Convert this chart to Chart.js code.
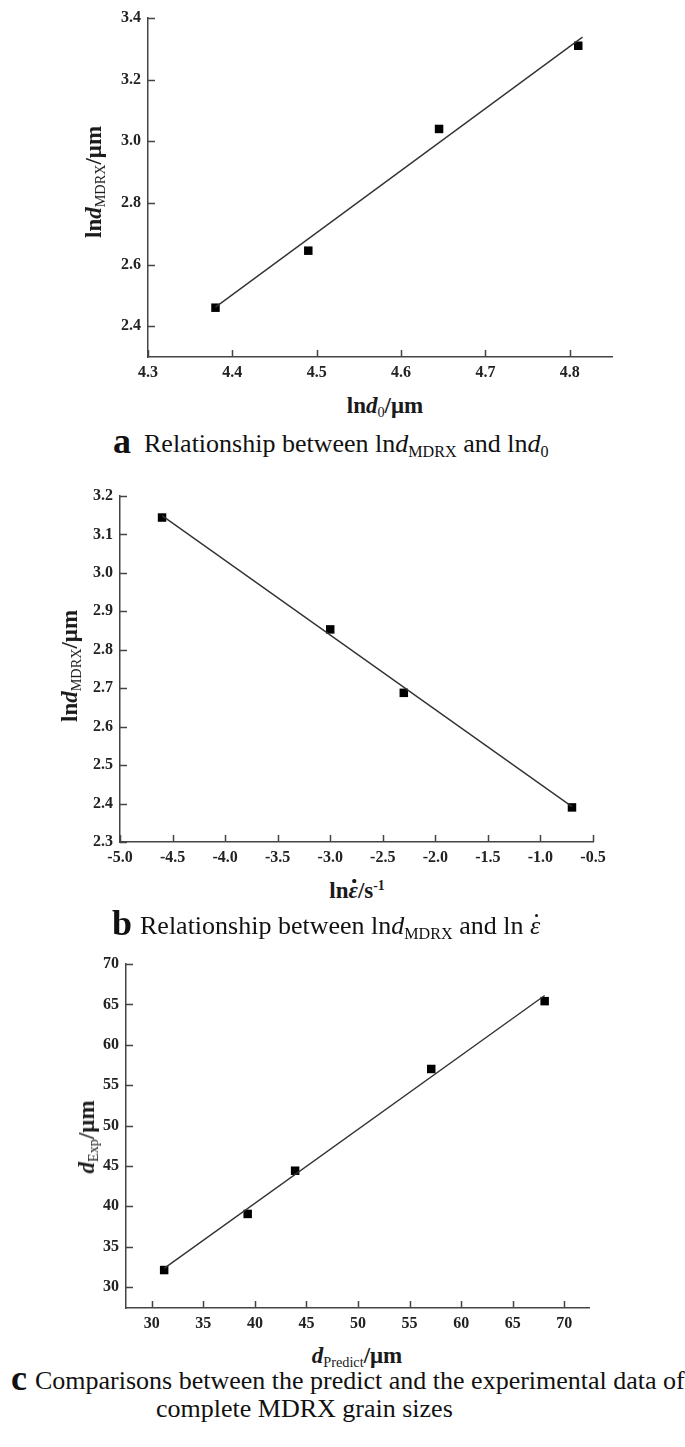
<!DOCTYPE html>
<html>
<head>
<meta charset="utf-8">
<script src="https://cdn.jsdelivr.net/npm/chart.js@4.4.1/dist/chart.umd.min.js"></script>
<style>
  body { margin: 0; background: #fff; width: 685px; height: 1447px; position: relative; overflow: hidden; }
  .panel { position: absolute; left: 0; }
  canvas { display: block; }
  .t { position: absolute; white-space: nowrap; font-family: 'Liberation Serif', 'Times New Roman', serif; color: #1a1a1a; }
  .axt { font-weight: bold; font-size: 23px; line-height: 23px; }
  .ytl { transform: translate(-50%, -50%) rotate(-90deg); }
  .xtl { transform: translateX(-50%); }
  .cap { font-size: 26px; line-height: 26px; color: #111; }
  .lab { font-weight: bold; font-size: 36px; line-height: 36px; color: #111; }
  sub { font-size: 0.62em; vertical-align: baseline; position: relative; top: 0.3em; font-weight: normal; }
  sup { font-size: 0.6em; vertical-align: baseline; position: relative; top: -0.6em; }
  .edot { position: relative; display: inline-block; font-style: italic; }
  .edot::after { content: ''; position: absolute; left: 50%; top: 0.02em; width: 0.14em; height: 0.14em; margin-left: -0.02em; border-radius: 50%; background: currentColor; }
</style>
</head>
<body>

<div class="panel" style="top:0px"><canvas id="chartA" width="685" height="390"></canvas></div>
<div class="panel" style="top:470px"><canvas id="chartB" width="685" height="400"></canvas></div>
<div class="panel" style="top:940px"><canvas id="chartC" width="685" height="400"></canvas></div>

<!-- axis titles -->
<div class="t axt ytl" style="left:95px; top:182px">ln<i>d</i><sub>MDRX</sub>/μm</div>
<div class="t axt xtl" style="left:385px; top:394px">ln<i>d</i><sub>0</sub>/μm</div>

<div class="t axt ytl" style="left:71px; top:666px">ln<i>d</i><sub>MDRX</sub>/μm</div>
<div class="t axt xtl" style="left:357px; top:879px">ln<span class="edot">ε</span>/s<sup>-1</sup></div>

<div class="t axt ytl" style="left:88px; top:1137px"><i>d</i><sub>Exp</sub>/μm</div>
<div class="t axt xtl" style="left:357px; top:1344px"><i>d</i><sub>Predict</sub>/μm</div>

<!-- captions -->
<div class="t lab" style="left:113px; top:423px">a</div>
<div class="t cap" style="left:144px; top:431px">Relationship between ln<i>d</i><sub>MDRX</sub> and ln<i>d</i><sub>0</sub></div>

<div class="t lab" style="left:112px; top:905px">b</div>
<div class="t cap" style="left:140px; top:913px">Relationship between ln<i>d</i><sub>MDRX</sub> and ln <span class="edot">ε</span></div>

<div class="t lab" style="left:11px; top:1360px">c</div>
<div class="t cap" style="left:35px; top:1368px">Comparisons between the predict and the experimental data of</div>
<div class="t cap" style="left:156px; top:1396px">complete MDRX grain sizes</div>

<script>
// panel a: lnd_MDRX vs lnd_0
const aX = [4.38, 4.49, 4.645, 4.81];
const aY = [2.46, 2.645, 3.04, 3.31];
const aFitX = [4.38, 4.815];
const aFitY = [2.462, 3.338];
const aTicksX = [4.3, 4.4, 4.5, 4.6, 4.7, 4.8];
const aTicksY = [2.4, 2.6, 2.8, 3.0, 3.2, 3.4];

// panel b: lnd_MDRX vs ln strain rate
const bX = [-4.6, -3.0, -2.3, -0.7];
const bY = [3.144, 2.853, 2.688, 2.39];
const bFitX = [-4.6, -0.7];
const bFitY = [3.149, 2.392];
const bTicksX = [-5.0, -4.5, -4.0, -3.5, -3.0, -2.5, -2.0, -1.5, -1.0, -0.5];
const bTicksY = [2.3, 2.4, 2.5, 2.6, 2.7, 2.8, 2.9, 3.0, 3.1, 3.2];

// panel c: predicted vs experimental grain size
const cX = [31.2, 39.3, 43.9, 57.1, 68.1];
const cY = [32.1, 39.05, 44.4, 57.0, 65.4];
const cFitX = [31.2, 68.1];
const cFitY = [32.3, 66.1];
const cTicksX = [30, 35, 40, 45, 50, 55, 60, 65, 70];
const cTicksY = [30, 35, 40, 45, 50, 55, 60, 65, 70];

const axisColor = '#444';
Chart.defaults.font.family = "'Liberation Serif', 'Times New Roman', serif";

// ticks point inward, into the plot
const innerTicks = {
  id: 'innerTicks',
  afterDraw(chart) {
    const { ctx, chartArea, scales } = chart;
    ctx.save();
    ctx.strokeStyle = axisColor;
    ctx.lineWidth = 1.5;
    ctx.beginPath();
    scales.x.ticks.forEach(t => {
      const px = Math.round(scales.x.getPixelForValue(t.value)) + 0.5;
      ctx.moveTo(px, chartArea.bottom);
      ctx.lineTo(px, chartArea.bottom - 7);
    });
    scales.y.ticks.forEach(t => {
      const py = Math.round(scales.y.getPixelForValue(t.value)) + 0.5;
      ctx.moveTo(chartArea.left, py);
      ctx.lineTo(chartArea.left + 7, py);
    });
    ctx.stroke();
    ctx.restore();
  }
};

function makeChart(id, p) {
  const canvas = document.getElementById(id);
  const xs = p.xs.map((v, i) => ({ x: v, y: p.ys[i] }));
  const fit = p.fitX.map((v, i) => ({ x: v, y: p.fitY[i] }));
  const fmt = v => p.dec ? Number(v).toFixed(p.dec) : String(v);
  return new Chart(canvas.getContext('2d'), {
    type: 'scatter',
    data: {
      datasets: [
        { data: fit, showLine: true, borderColor: '#333', borderWidth: 1.4, pointRadius: 0, fill: false },
        { data: xs, pointStyle: 'rect', pointRadius: 6, backgroundColor: '#000', borderColor: '#000', borderWidth: 0 }
      ]
    },
    options: {
      responsive: false,
      devicePixelRatio: 1,
      animation: false,
      clip: false,
      layout: { padding: { left: 0, top: p.area.top, right: 685 - p.area.right, bottom: 0 } },
      plugins: { legend: { display: false }, tooltip: { enabled: false } },
      scales: {
        x: {
          type: 'linear', min: p.xMin, max: p.xMax,
          afterBuildTicks: s => { s.ticks = p.xTicks.map(v => ({ value: v })); },
          afterFit: s => { s.height = canvas.height - p.area.bottom; },
          grid: { display: false, drawTicks: false },
          border: { display: true, color: axisColor, width: 1.5 },
          ticks: { color: '#222', padding: 6, maxRotation: 0, autoSkip: false, font: { size: p.fs, weight: 'bold' }, callback: fmt }
        },
        y: {
          type: 'linear', min: p.yMin, max: p.yMax,
          afterBuildTicks: s => { s.ticks = p.yTicks.map(v => ({ value: v })); },
          afterFit: s => { s.width = p.area.left; },
          grid: { display: false, drawTicks: false },
          border: { display: true, color: axisColor, width: 1.5 },
          ticks: { color: '#222', padding: 7, autoSkip: false, font: { size: p.fs, weight: 'bold' }, callback: fmt }
        }
      }
    },
    plugins: [innerTicks]
  });
}

makeChart('chartA', {
  xs: aX, ys: aY, fitX: aFitX, fitY: aFitY,
  xMin: 4.3, xMax: 4.85, yMin: 2.3, yMax: 3.4,
  xTicks: aTicksX, yTicks: aTicksY, dec: 1, fs: 16,
  area: { left: 148, top: 18, right: 612, bottom: 357 }
});

makeChart('chartB', {
  xs: bX, ys: bY, fitX: bFitX, fitY: bFitY,
  xMin: -5.0, xMax: -0.5, yMin: 2.3, yMax: 3.2,
  xTicks: bTicksX, yTicks: bTicksY, dec: 1, fs: 16,
  area: { left: 120, top: 26, right: 593, bottom: 372 }
});

makeChart('chartC', {
  xs: cX, ys: cY, fitX: cFitX, fitY: cFitY,
  xMin: 27.5, xMax: 72.4, yMin: 27.4, yMax: 70,
  xTicks: cTicksX, yTicks: cTicksY, dec: 0, fs: 16,
  area: { left: 126, top: 24, right: 589, bottom: 368 }
});
</script>
</body>
</html>
